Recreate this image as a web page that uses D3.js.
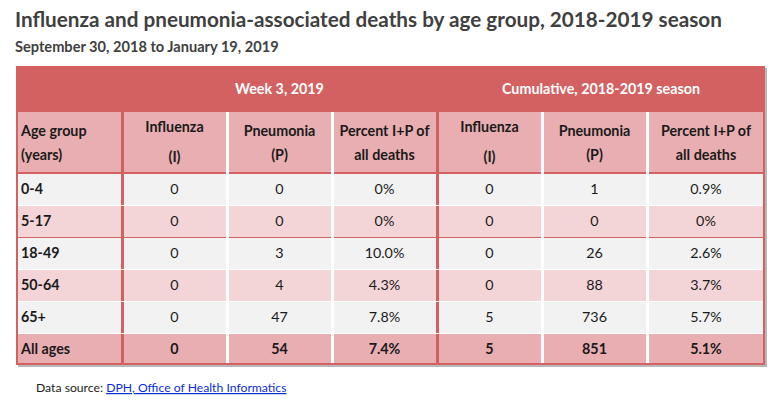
<!DOCTYPE html>
<html>
<head>
<meta charset="utf-8">
<script src="https://cdn.jsdelivr.net/npm/d3@7"></script>
<style>
  body { margin: 0; background: #fff; }
  svg { display: block; font-family: Lato, "Open Sans", sans-serif; }
</style>
</head>
<body>
<div id="chart_parent"></div>
<script>
// table values
const ageGroups = ['0-4', '5-17', '18-49', '50-64', '65+', 'All ages'];
const weekInfluenza = [0, 0, 0, 0, 0, 0];
const weekPneumonia = [0, 0, 3, 4, 47, 54];
const weekPercent = ['0%', '0%', '10.0%', '4.3%', '7.8%', '7.4%'];
const cumInfluenza = [0, 0, 0, 0, 5, 5];
const cumPneumonia = [1, 0, 26, 88, 736, 851];
const cumPercent = ['0.9%', '0%', '2.6%', '3.7%', '5.7%', '5.1%'];

const groupLabels = ['Week 3, 2019', 'Cumulative, 2018-2019 season'];
const columnLabels = [
    ['Age group', '(years)'],
    ['Influenza', '(I)'],
    ['Pneumonia', '(P)'],
    ['Percent I+P of', 'all deaths'],
    ['Influenza', '(I)'],
    ['Pneumonia', '(P)'],
    ['Percent I+P of', 'all deaths'],
];

const title = 'Influenza and pneumonia-associated deaths by age group, 2018-2019 season';
const subtitle = 'September 30, 2018 to January 19, 2019';

const config = {
    outerWidth: 784,
    outerHeight: 404,
    left: 16,
    right: 765,
    top: 66,
    groupHeight: 45,
    headHeight: 61,
    rowHeight: 32,
    colWidths: [106, 105, 105, 105, 105, 105, 118],
    cellFont: '14.3px',
};

const colors = {
    red: '#d46162',
    pink: '#e9aeb1',
    lightPink: '#f3d5d7',
    grey: '#f2f2f2',
    text: '#1a1a1a',
    title: '#404040',
};

const svg = d3.select('#chart_parent').append('svg')
    .attr('width', config.outerWidth)
    .attr('height', config.outerHeight);

svg.append('text')
    .attr('x', 15).attr('y', 27)
    .attr('fill', colors.title)
    .style('font-size', '20.7px').style('font-weight', 700)
    .text(title);

svg.append('text')
    .attr('x', 15).attr('y', 52)
    .attr('fill', colors.title)
    .style('font-size', '14.6px').style('font-weight', 700)
    .text(subtitle);

// column positions
const colIdx = d3.range(columnLabels.length);
const colEdges = [config.left];
config.colWidths.forEach(w => colEdges.push(colEdges[colEdges.length - 1] + w));
const x = d3.scaleOrdinal().domain(colIdx).range(colEdges.slice(0, -1));
const xw = i => config.colWidths[i];

const headTop = config.top + config.groupHeight + 1;
const bodyTop = headTop + config.headHeight;
const y = d3.scaleBand()
    .domain(ageGroups)
    .range([bodyTop, bodyTop + config.rowHeight * ageGroups.length]);
const bottom = y.range()[1];

// shadow
svg.append('rect')
    .attr('x', config.left + 2).attr('y', config.top + 2)
    .attr('width', config.right - config.left).attr('height', bottom - config.top)
    .attr('fill', '#b8b8b8');

// group header band
svg.append('rect')
    .attr('x', config.left).attr('y', config.top)
    .attr('width', config.right - config.left).attr('height', bottom - config.top)
    .attr('fill', colors.red);

const groupSpans = [[1, 3], [4, 6]];
svg.selectAll('.group-label')
    .data(groupLabels)
    .join('text')
    .attr('class', 'group-label')
    .attr('x', (d, i) => (x(groupSpans[i][0]) + x(groupSpans[i][1]) + xw(groupSpans[i][1])) / 2)
    .attr('y', config.top + config.groupHeight / 2 + 5)
    .attr('text-anchor', 'middle')
    .attr('fill', '#fff')
    .style('font-size', config.cellFont).style('font-weight', 700)
    .text(d => d);

// column header cells
const head = svg.selectAll('.head-cell')
    .data(columnLabels)
    .join('g')
    .attr('class', 'head-cell');

head.append('rect')
    .attr('x', (d, i) => x(i) + 2)
    .attr('y', headTop)
    .attr('width', (d, i) => xw(i) - (i === 6 ? 4 : 3))
    .attr('height', config.headHeight - 1)
    .attr('fill', colors.pink);

head.append('text')
    .attr('x', (d, i) => i === 0 ? x(i) + 5 : x(i) + xw(i) / 2)
    .attr('text-anchor', (d, i) => i === 0 ? 'start' : 'middle')
    .attr('fill', colors.text)
    .style('font-size', config.cellFont).style('font-weight', 700)
    .each(function (d, i) {
        const t = d3.select(this);
        const tall = d[1] === '(I)';
        t.append('tspan').attr('x', t.attr('x')).attr('y', headTop + (tall ? 20 : 24)).text(d[0]);
        t.append('tspan').attr('x', t.attr('x')).attr('y', headTop + (tall ? 50 : 48)).text(d[1]);
    });

// body rows
const rowFill = (g, i) => g === 'All ages' ? colors.pink : (i % 2 ? colors.lightPink : colors.grey);
const rowValues = ageGroups.map((g, i) => [g, weekInfluenza[i], weekPneumonia[i], weekPercent[i],
    cumInfluenza[i], cumPneumonia[i], cumPercent[i]]);

const rows = svg.selectAll('.row')
    .data(rowValues)
    .join('g')
    .attr('class', 'row');

rows.selectAll('rect')
    .data((d, ri) => d.map((v, ci) => ({ v, ci, ri })))
    .join('rect')
    .attr('x', d => x(d.ci) + 2)
    .attr('y', d => y(ageGroups[d.ri]) + 1)
    .attr('width', d => xw(d.ci) - (d.ci === 6 ? 4 : 3))
    .attr('height', d => y.bandwidth() - (d.ri === ageGroups.length - 1 ? 3 : 1))
    .attr('fill', d => rowFill(ageGroups[d.ri], d.ri));

// white separators inside the pale rows
rows.append('rect')
    .attr('x', config.left + 2)
    .attr('y', (d, i) => y(ageGroups[i]))
    .attr('width', config.right - config.left - 4)
    .attr('height', (d, i) => i === 0 || i === 2 ? 0 : 1)
    .attr('fill', '#fff');

rows.selectAll('text')
    .data((d, ri) => d.map((v, ci) => ({ v, ci, ri })))
    .join('text')
    .attr('x', d => d.ci === 0 ? x(d.ci) + 5 : x(d.ci) + xw(d.ci) / 2)
    .attr('y', d => y(ageGroups[d.ri]) + y.bandwidth() / 2 + 5)
    .attr('text-anchor', d => d.ci === 0 ? 'start' : 'middle')
    .attr('fill', colors.text)
    .style('font-size', config.cellFont)
    .style('font-weight', d => d.ci === 0 || d.ri === ageGroups.length - 1 ? 700 : 400)
    .text(d => d.v);

// white column rules (the red ones are the table background)
svg.selectAll('.vrule')
    .data([2, 3, 5, 6])
    .join('rect')
    .attr('class', 'vrule')
    .attr('x', d => x(d) - 1)
    .attr('y', headTop)
    .attr('width', 3)
    .attr('height', bottom - headTop - 2)
    .attr('fill', '#fff');

// source line
const src = svg.append('text')
    .attr('x', 36).attr('y', 392)
    .attr('fill', '#222')
    .style('font-size', '12.2px');
src.append('tspan').text('Data source: ');
src.append('tspan')
    .attr('fill', '#0b2fd6')
    .style('text-decoration', 'underline')
    .text('DPH, Office of Health Informatics');
</script>
</body>
</html>
